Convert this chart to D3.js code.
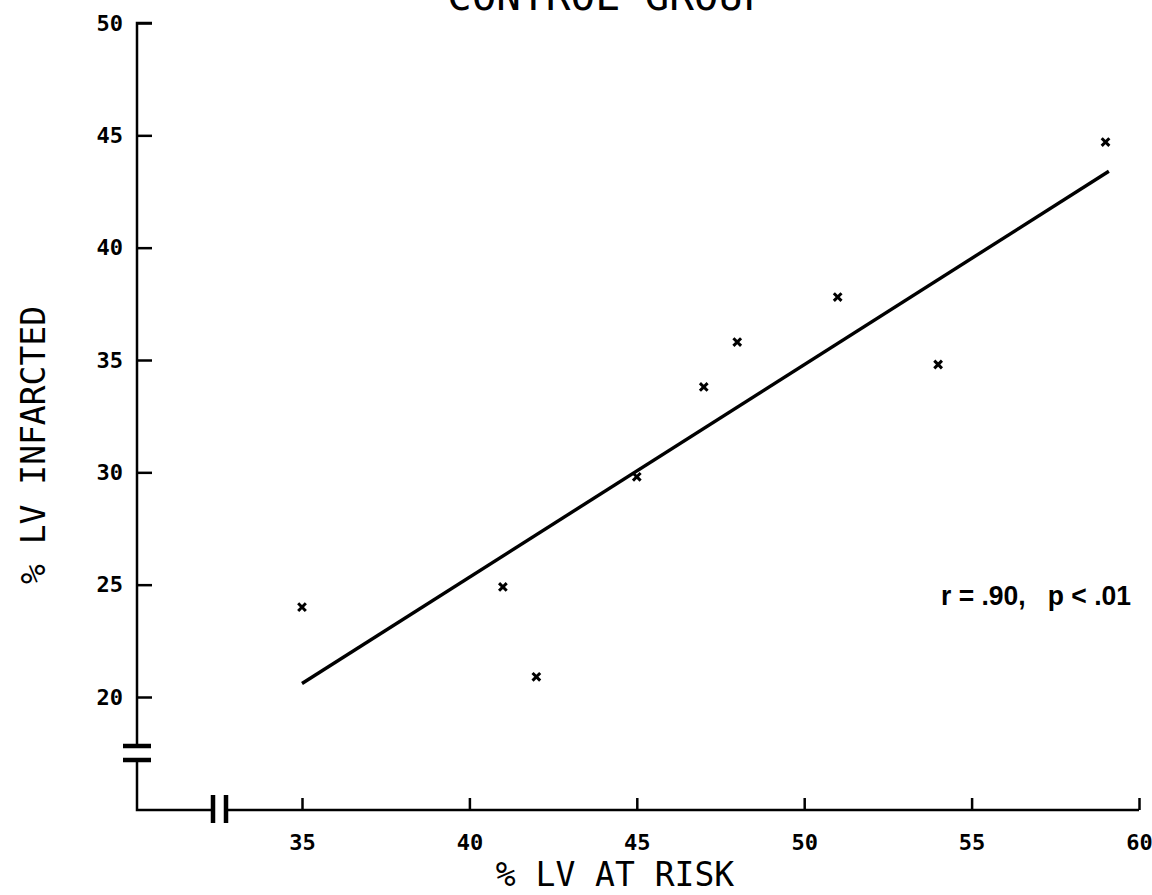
<!DOCTYPE html>
<html>
<head>
<meta charset="utf-8">
<script src="https://cdn.jsdelivr.net/npm/d3@7"></script>
<style>
  body { margin: 0; background: #fff; }
  svg { display: block; }
  .plotter { font-family: "DejaVu Sans Mono", monospace; fill: #000; }
</style>
</head>
<body>
<svg id="chart" width="1152" height="895"></svg>
<script>
//----------------------------------------------------------- DATA
var atRisk     = [35, 41, 42, 45, 47, 48, 51, 54, 59];              // % LV at risk
var infarcted  = [24, 24.9, 20.9, 29.8, 33.8, 35.8, 37.8, 34.8, 44.7]; // % LV infarcted
var fitLine    = [[35, 20.6], [59.1, 43.4]];                        // regression line ends
var xTicks     = [35, 40, 45, 50, 55, 60];
var yTicks     = [20, 25, 30, 35, 40, 45, 50];
var statsLabel = "r = .90,   p < .01";

//----------------------------------------------------------- SCALES
var svg = d3.select("#chart");

var x = d3.scaleLinear().domain([35, 60]).range([302, 1139]);
var y = d3.scaleLinear().domain([20, 50]).range([697, 23]);

var axisX0 = 137,   // where the vertical axis sits
	axisY0 = 810;   // where the horizontal axis sits

//----------------------------------------------------------- AXES
function styleTicks(g){
	g.select(".domain").remove();
	g.selectAll(".tick line").attr("stroke", "#000").attr("stroke-width", 2.5);
	g.selectAll(".tick text")
		.attr("fill", "#000")
		.attr("font-family", "'DejaVu Sans Mono', monospace")
		.attr("font-weight", "bold")
		.attr("font-size", 22);
}

var yAxis = d3.axisLeft(y)
	.tickValues(yTicks)
	.tickFormat(d3.format("d"))
	.tickSizeInner(-15)
	.tickSizeOuter(0)
	.tickPadding(14);

svg.append("g")
	.attr("transform", "translate(" + axisX0 + ",0)")
	.call(yAxis)
	.call(styleTicks);

var xAxis = d3.axisBottom(x)
	.tickValues(xTicks)
	.tickFormat(d3.format("d"))
	.tickSizeInner(-12)
	.tickSizeOuter(0);

var gx = svg.append("g")
	.attr("transform", "translate(0," + axisY0 + ")")
	.call(xAxis)
	.call(styleTicks);
gx.selectAll(".tick text").attr("y", 32).attr("dy", "0.35em");

// axis lines with the break marks
var axisLines = svg.append("g")
	.attr("stroke", "#000")
	.attr("fill", "none");

axisLines.append("path")
	.attr("stroke-width", 2.5)
	.attr("d", "M" + (axisX0 + 15) + "," + y(50) + "H" + axisX0 + "V746"
		+ "M" + axisX0 + ",760V" + axisY0 + "H213"
		+ "M226," + axisY0 + "H" + x(60));

axisLines.append("path")
	.attr("stroke-width", 4.5)
	.attr("d", "M123,746H151M123,760H151M213,795V823M226,795V823");

//----------------------------------------------------------- FIT LINE + POINTS
var line = d3.line()
	.x(function(d){ return x(d[0]); })
	.y(function(d){ return y(d[1]); });

svg.append("path")
	.datum(fitLine)
	.attr("d", line)
	.attr("fill", "none")
	.attr("stroke", "#000")
	.attr("stroke-width", 3.4);

var pts = atRisk.map(function(v, i){ return {x: v, y: infarcted[i]}; });

svg.append("g").selectAll("path.pt")
	.data(pts)
	.enter().append("path")
		.attr("class", "pt")
		.attr("transform", function(d){ return "translate(" + x(d.x) + "," + y(d.y) + ")"; })
		.attr("d", d3.symbol().type(d3.symbolX).size(40))
		.attr("fill", "none")
		.attr("stroke", "#000")
		.attr("stroke-width", 3);

//----------------------------------------------------------- TEXT
svg.append("text")
	.attr("class", "plotter")
	.attr("x", 447)
	.attr("y", 10)
	.attr("font-size", 41)
	.text("CONTROL GROUP");

svg.append("text")
	.attr("class", "plotter")
	.attr("x", 615)
	.attr("y", 886)
	.attr("text-anchor", "middle")
	.attr("font-size", 33)
	.text("% LV AT RISK");

svg.append("text")
	.attr("class", "plotter")
	.attr("transform", "translate(45,445) rotate(-90)")
	.attr("text-anchor", "middle")
	.attr("font-size", 33)
	.text("% LV INFARCTED");

svg.append("text")
	.attr("x", 941)
	.attr("y", 605)
	.attr("font-family", "'Liberation Sans', Arial, sans-serif")
	.attr("font-weight", "bold")
	.attr("font-size", 28)
	.attr("textLength", 190)
	.attr("lengthAdjust", "spacingAndGlyphs")
	.style("white-space", "pre")
	.text(statsLabel);
</script>
</body>
</html>
